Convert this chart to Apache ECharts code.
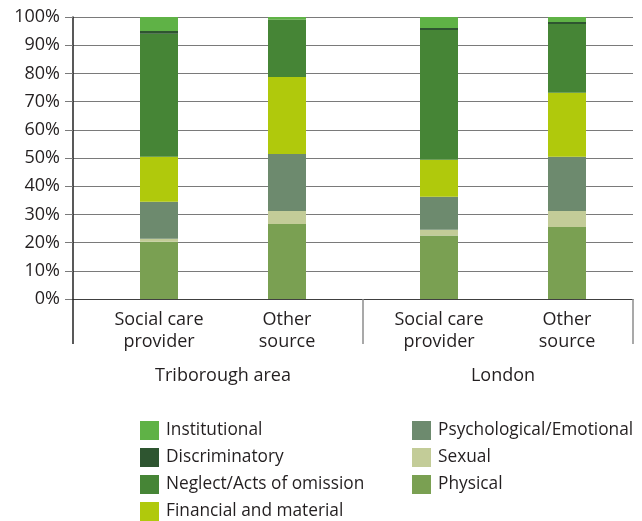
<!DOCTYPE html>
<html>
<head>
<meta charset="utf-8">
<script src="https://cdn.jsdelivr.net/npm/echarts@6/dist/echarts.min.js"></script>
<style>
html,body{margin:0;padding:0;background:#fff;}
#chart{width:642px;height:521px;}
</style>
</head>
<body>
<div id="chart"></div>
<script>
// Categories within each group, and the groups
const categories = ['Social care\nprovider', 'Other\nsource'];
const groups = ['Triborough area', 'London'];
// Order of values: [Triborough social care, Triborough other, London social care, London other]
const physical       = [20.3, 26.6, 22.5, 25.5];
const sexual         = [1.1, 4.6, 2.1, 5.7];
const psychological  = [13.1, 20.2, 11.7, 19.2];
const financial      = [15.9, 27.3, 13.1, 22.7];
const neglect        = [43.7, 20.2, 46.0, 24.4];
const discriminatory = [0.9, 0.1, 0.7, 0.7];
const institutional  = [5.0, 1.0, 3.9, 1.8];
const seriesNames = ['Physical', 'Sexual', 'Psychological/Emotional', 'Financial and material',
  'Neglect/Acts of omission', 'Discriminatory', 'Institutional'];
const seriesValues = [physical, sexual, psychological, financial, neglect, discriminatory, institutional];
const yTickLabels = ['0%', '10%', '20%', '30%', '40%', '50%', '60%', '70%', '80%', '90%', '100%'];

const colors = {
  'Physical': '#7aa052',
  'Sexual': '#c3cc98',
  'Psychological/Emotional': '#6d8a6e',
  'Financial and material': '#b0c90c',
  'Neglect/Acts of omission': '#468536',
  'Discriminatory': '#2e5530',
  'Institutional': '#5fb246'
};

const FONT = 'Open Sans';
const TXT = '#231f20';
const GRID_C = '#7a7a7a';

const chart = echarts.init(document.getElementById('chart'));

// x ranges of the two group grids (value axes so bars sit where the original puts them)
const xRangeA = {min: -86 / 128, max: 1 + 76 / 128};
const xRangeB = {min: -76 / 128, max: 1 + 66 / 128};

function catAxis(gridIndex, range) {
  return {
    type: 'value', gridIndex: gridIndex, position: 'bottom',
    min: range.min, max: range.max,
    splitLine: {show: false},
    axisLine: {show: true, onZero: false, lineStyle: {color: '#404040', width: 1}},
    axisTick: {show: true, customValues: [range.max], length: 45, lineStyle: {color: '#8c8c8c', width: 1.5}},
    axisLabel: {
      show: true, customValues: [0, 1], margin: 10,
      formatter: function (v) { return categories[Math.round(v)]; },
      fontFamily: FONT, fontSize: 18, lineHeight: 22, color: TXT
    }
  };
}
function groupAxis(gridIndex, range, gi, tickColor) {
  return {
    type: 'value', gridIndex: gridIndex, position: 'bottom',
    min: range.min, max: range.max,
    splitLine: {show: false},
    axisLine: {show: false, onZero: false},
    axisTick: {show: tickColor !== null, customValues: [range.min], length: 45,
      lineStyle: {color: tickColor || '#000', width: 1.5}},
    axisLabel: {
      show: true, customValues: [0.5], margin: 66,
      formatter: function () { return groups[gi]; },
      fontFamily: FONT, fontSize: 18, lineHeight: 22, color: TXT
    }
  };
}

const series = [];
seriesNames.forEach(function (name, si) {
  const vals = seriesValues[si];
  [0, 1].forEach(function (g) {
    series.push({
      name: name, type: 'bar', stack: 'grp' + g,
      xAxisIndex: g === 0 ? 1 : 3, yAxisIndex: g + 1,
      barWidth: 38,
      itemStyle: {color: colors[name]},
      dimensions: ['value', 'cat'],
      encode: {x: 1, y: 0},
      data: [0, 1].map(function (ci) { return [vals[g * 2 + ci], ci]; })
    });
  });
});

const legendCommon = {
  orient: 'vertical', top: 421, itemWidth: 19, itemHeight: 19, itemGap: 8,
  icon: 'rect', padding: 0, selectedMode: false,
  textStyle: {fontFamily: FONT, fontSize: 17.3, color: TXT, padding: [6, 0, 0, 2]}
};

chart.setOption({
  animation: false,
  backgroundColor: '#ffffff',
  grid: [
    {left: 73, top: 17, width: 560, height: 282},
    {left: 73, top: 17, width: 290, height: 282},
    {left: 363, top: 17, width: 270, height: 282}
  ],
  xAxis: [
    {type: 'value', gridIndex: 0, show: false, min: 0, max: 1},
    catAxis(1, xRangeA),
    groupAxis(1, xRangeA, 0, '#222222'),
    catAxis(2, xRangeB),
    groupAxis(2, xRangeB, 1, null)
  ],
  yAxis: [
    {
      type: 'value', gridIndex: 0, min: 0, max: 100, interval: 10,
      axisLine: {show: true, lineStyle: {color: '#222222', width: 1.5}},
      axisTick: {show: true, length: 8, lineStyle: {color: GRID_C}},
      splitLine: {show: true, lineStyle: {color: GRID_C, width: 1}},
      axisLabel: {
        margin: 13, fontFamily: FONT, fontSize: 18, color: TXT,
        formatter: function (v) { return yTickLabels[Math.round(v / 10)]; }
      }
    },
    {type: 'value', gridIndex: 1, min: 0, max: 100, show: false},
    {type: 'value', gridIndex: 2, min: 0, max: 100, show: false}
  ],
  legend: [
    Object.assign({}, legendCommon, {left: 140,
      data: ['Institutional', 'Discriminatory', 'Neglect/Acts of omission', 'Financial and material']}),
    Object.assign({}, legendCommon, {left: 412,
      data: ['Psychological/Emotional', 'Sexual', 'Physical']})
  ],
  series: series
});
</script>
</body>
</html>
